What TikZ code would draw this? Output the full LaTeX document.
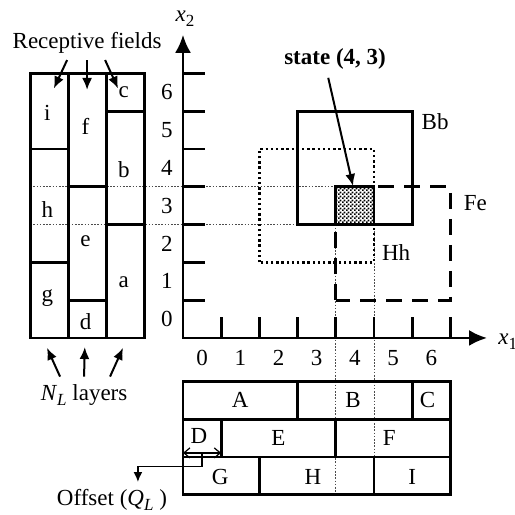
\documentclass[tikz,border=0pt]{standalone}
\usepackage{fontspec}
\setmainfont{Liberation Serif}
\usetikzlibrary{arrows.meta,patterns.meta}

\newcommand{\ivar}[2]{\textit{#1}\raisebox{-0.45ex}{\fontsize{8.5}{9}\selectfont #2}}

\tikzdeclarepattern{
    name=finecheck,
    type=uncolored,
    bottom left={(0pt,0pt)},
    top right={(1.8pt,1.8pt)},
    tile size={(1.8pt,1.8pt)},
    code={
        \fill (0pt,0pt) rectangle (0.9pt,0.9pt);
        \fill (0.9pt,0.9pt) rectangle (1.8pt,1.8pt);
    }
}

\tikzset{
    box/.style={line width=1.4pt},
    guide/.style={line width=0.4pt,gray!60!black,dash pattern=on 0.8pt off 0.8pt},
    arr/.style={line width=1pt,-{Latex[length=6pt,width=5pt]}},
    lead/.style={line width=0.8pt,-{Latex[length=5pt,width=4.5pt]}},
    lbl/.style={font=\fontsize{11.5}{14}\selectfont,inner sep=0pt},
}

\begin{document}
\begin{tikzpicture}[x=19.1pt,y=18.9pt]
    \useasboundingbox (-4.79,-4.68) rectangle (8.69,8.94);

    % dotted guides from the state cell
    \draw [guide] (-4,4)--(4,4);
    \draw [guide] (-4,3)--(4,3);
    \draw [guide] (4,3)--(4,-4.15);
    \draw [guide] (5,3)--(5,-4.15);

    % state space axes
    \coordinate (O) at (0,0);
    \coordinate (xtop) at (0,8.02);
    \coordinate (xright) at (7.96,0);
    \draw [box,{Latex[length=9pt,width=8pt]}-{Latex[length=9pt,width=8pt]}] (xtop)--(O)--(xright);
    \node [lbl] (xtwo) at (0.05,8.45) {\ivar{x}{2}};
    \node [lbl] (xone) at (8.5,-0.1) {\ivar{x}{1}};
    \foreach \k in {1,...,7} {
        \draw [box] (0,\k)--(0.57,\k);
        \draw [box] (\k,0)--(\k,0.56);
    }
    \foreach \k in {0,...,6} {
        \node [lbl] at (-0.42,\k+0.5) {\k};
        \node [lbl] at (\k+0.5,-0.53) {\k};
    }

    % tiles over the state
    \draw [box] (3,3) rectangle (6,6);
    \draw [box,dash pattern=on 1.2pt off 1.4pt] (2,2) rectangle (5,5);
    \draw [box,dash pattern=on 8pt off 5pt] (4,1) rectangle (7,4);
    \draw [box,pattern=finecheck] (4,3) rectangle (5,4);
    \node [lbl] (Bb) at (6.6,5.71) {Bb};
    \node [lbl] (Hh) at (5.58,2.25) {Hh};
    \node [lbl] (Fe) at (7.65,3.57) {Fe};

    \node [lbl,font=\fontsize{11.5}{14}\selectfont\bfseries] (state) at (3.98,7.38) {state (4, 3)};
    \coordinate (cell) at (4.45,4.02);
    \draw [arr] ([shift={(-3.4pt,-4pt)}]state.south)--(cell);

    % receptive fields of the layers
    \draw [box] (-4,0) rectangle (-1,7);
    \draw [box] (-3,0)--(-3,7) (-2,0)--(-2,7);
    \draw [box] (-4,5)--(-3,5) (-4,2)--(-3,2);
    \draw [box] (-3,4)--(-2,4) (-3,1)--(-2,1);
    \draw [box] (-2,6)--(-1,6) (-2,3)--(-1,3);
    \node [lbl] (i) at (-3.55,5.95) {i};
    \node [lbl] (h) at (-3.55,3.4) {h};
    \node [lbl] (g) at (-3.55,1.06) {g};
    \node [lbl] (f) at (-2.55,5.6) {f};
    \node [lbl] (e) at (-2.55,2.57) {e};
    \node [lbl] (d) at (-2.55,0.42) {d};
    \node [lbl] (c) at (-1.55,6.5) {c};
    \node [lbl] (b) at (-1.55,4.45) {b};
    \node [lbl] (a) at (-1.55,1.48) {a};

    \node [lbl] (fields) at (-2.51,7.8) {Receptive fields};
    \coordinate (tofi) at (-3.38,6.6);
    \coordinate (toff) at (-2.51,6.56);
    \coordinate (tofc) at (-1.7,6.6);
    \draw [arr] ([shift={(-10pt,-3pt)}]fields.south)--(tofi);
    \draw [arr] ([shift={(0pt,-3pt)}]fields.south)--(toff);
    \draw [arr] ([shift={(9pt,-3pt)}]fields.south)--(tofc);

    \node [lbl] (layers) at (-2.59,-1.51) {\ivar{N}{\textit{L}} layers};
    \coordinate (toli) at (-3.56,-0.26);
    \coordinate (tolf) at (-2.57,-0.24);
    \coordinate (tolc) at (-1.57,-0.26);
    \draw [arr] ([shift={(-12pt,3.8pt)}]layers.north)--(toli);
    \draw [arr] ([shift={(0pt,3.8pt)}]layers.north)--(tolf);
    \draw [arr] ([shift={(13pt,3.8pt)}]layers.north)--(tolc);

    % tiles along x1
    \draw [box] (0,-4.15) rectangle (7,-1.15);
    \draw [box] (0,-2.15)--(7,-2.15) (0,-3.15)--(7,-3.15);
    \draw [box] (3,-1.15)--(3,-2.15) (6,-1.15)--(6,-2.15);
    \draw [box] (1,-2.15)--(1,-3.15) (4,-2.15)--(4,-3.15);
    \draw [box] (2,-3.15)--(2,-4.15) (5,-3.15)--(5,-4.15);
    \node [lbl] (A) at (1.5,-1.64) {A};
    \node [lbl] (B) at (4.45,-1.64) {B};
    \node [lbl] (C) at (6.4,-1.64) {C};
    \node [lbl] (D) at (0.42,-2.6) {D};
    \node [lbl] (E) at (2.5,-2.65) {E};
    \node [lbl] (F) at (5.4,-2.65) {F};
    \node [lbl] (G) at (0.97,-3.67) {G};
    \node [lbl] (H) at (3.4,-3.67) {H};
    \node [lbl] (I) at (6,-3.67) {I};

    % offset between layers
    \coordinate (offl) at (0,-3.04);
    \coordinate (offr) at (1,-3.04);
    \coordinate (offmid) at (0.5,-3.04);
    \draw [line width=0.6pt,{Straight Barb[length=3pt,width=5pt]}-{Straight Barb[length=3pt,width=5pt]}] (offl)--(offr);
    \node [lbl] (offset) at (-1.86,-4.28) {Offset (\ivar{Q}{\textit{L}} )};
    \coordinate (offtip) at (-1.18,-3.81);
    \draw [lead] (offmid)--++(0,-0.36)-|(offtip);
\end{tikzpicture}
\end{document}
